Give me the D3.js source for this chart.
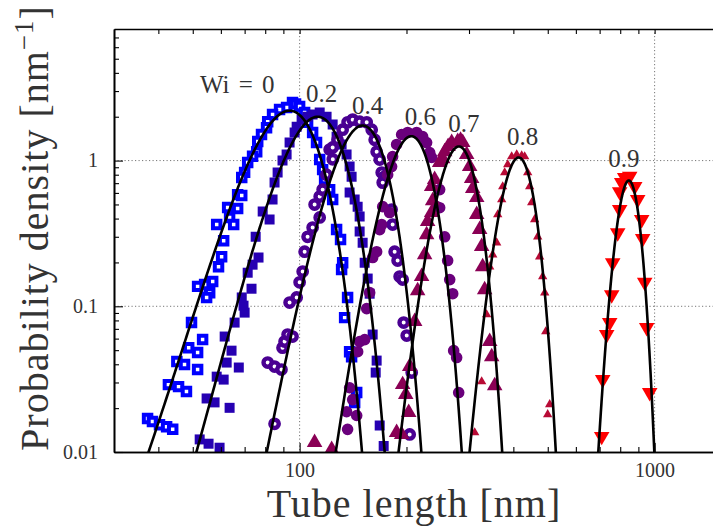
<!DOCTYPE html>
<html>
<head>
<meta charset="utf-8">
<script src="https://cdn.jsdelivr.net/npm/d3@7"></script>
<style>
  body { margin: 0; background: #fff; }
  text { font-family: "Liberation Serif", "Times New Roman", serif; fill: #333; }
</style>
</head>
<body>
<div id="chart"></div>
<script>
// measured points [tube length nm, probability density], one array per Wi
var wi00 = [[95.5,2.50],[97.4,2.45],[91.9,2.31],[87.8,2.24],[83.9,2.07],[81.3,1.85],[80.7,1.68],[78.1,1.51],[76.2,1.35],[75.7,1.15],[73.7,1.07],[71.4,0.97],[70.0,0.83],[68.7,0.765],[66.9,0.584],[68.7,0.575],[62.7,0.476],[66.9,0.469],[63.5,0.407],[58.4,0.364],[65.2,0.364],[61.1,0.282],[60.3,0.219],[59.1,0.187],[56.9,0.148],[54.0,0.141],[51.6,0.137],[55.8,0.124],[54.7,0.115],[49.6,0.0773],[53.3,0.0591],[48.7,0.052],[51.6,0.0481],[45.1,0.0418],[47.4,0.0398],[51.6,0.0368],[42.7,0.029],[45.6,0.0281],[48.0,0.026],[37.3,0.017],[38.5,0.0162],[40.3,0.0154],[42.2,0.0149],[43.9,0.0143],
  [100,2.35],[103.3,2.14],[105.3,1.83],[108.8,1.56],[111.6,1.33],[113.9,1.016],[116.1,0.867],[117.6,0.741],[121.5,0.632],[123.9,0.540],[127.1,0.336],[130.4,0.287],[132.2,0.199],[131.3,0.179],[136.5,0.115],[133.9,0.0836],[138.3,0.0488],[140.1,0.0451],[144.8,0.0256],[142.9,0.0219]];
var wi02 = [[59.5,0.0107],[55.4,0.0114],[52.3,0.0122],[63.5,0.0201],[57.6,0.0219],[54.7,0.0233],[61.1,0.0314],[58.4,0.0329],[67.4,0.038],[62.3,0.0411],[64.3,0.0496],[61.5,0.062],[65.6,0.0773],[70.0,0.0905],[69.5,0.101],[68.7,0.115],[73.2,0.132],[71.4,0.170],[73.7,0.193],[76.6,0.216],[75.2,0.30],[78.7,0.447],[82.3,0.394],[83.9,0.540],[85.0,0.706],[86.7,0.827],[89.5,1.0],[91.9,1.10],[93.7,1.33],[96.8,1.56],[98.1,1.71],[101.3,1.91],[105.3,2.0],[108.8,2.07],[113.9,2.14],[119.1,2.0],[123.9,1.77],[127.1,1.46],[131.3,1.29],[135.6,1.10],[138.3,0.91],[140.1,0.776],[138.3,0.603],[142.9,0.540],[145.7,0.483],[147.6,0.413],[147.6,0.326],[150.5,0.273],[152.5,0.199],[155.5,0.155],[157.5,0.122],[160.6,0.064],[164.8,0.0424],[163.8,0.0351],[168.1,0.0152],[172.5,0.011]];
var wi04 = [[85.0,0.0156],[81.3,0.0411],[85.0,0.0386],[88.9,0.0368],[89.5,0.052],[90.7,0.0573],[92.5,0.064],[95.5,0.062],[93.7,0.106],[98.1,0.115],[100,0.146],[102,0.173],[103.3,0.237],[105.3,0.300],[108.8,0.347],[113.9,0.407],[110.2,0.499],[113.9,0.566],[116.1,0.632],[119,0.80],[124,1.02],[121.5,1.19],[123.9,1.23],[127.9,1.39],[132.2,1.63],[136.5,1.83],[141.1,1.91],[147.6,1.85],[154.5,1.83],[159.6,1.63],[162.7,1.39],[164.8,1.15],[168.1,1.016],[170.3,0.827],[173.6,0.776],[171.4,0.706],[181.6,0.461],[182.8,0.364],[185.2,0.237],[188.8,0.206],[191.3,0.160],[195.1,0.1525],[196.4,0.0773],[200.3,0.063],[206.9,0.0351],[204.2,0.0132]];
var wi06 = [[136.5,0.0143],[135.6,0.0189],[144.8,0.0178],[141.1,0.0229],[138.3,0.0276],[145.7,0.0488],[147.6,0.0573],[152.5,0.0591],[154.5,0.0964],[157.5,0.124],[160.6,0.216],[164.8,0.237],[168.1,0.336],[170.3,0.364],[171.4,0.483],[179.3,0.44],[177,0.801],[181.6,0.91],[182.8,1.066],[187.6,1.29],[193.8,1.51],[201.6,1.56],[213.6,1.56],[222.1,1.46],[227.9,1.33],[232.5,1.135],[235.5,1.05],[248,0.632],[243.2,0.483],[248,0.475],[256.2,0.300],[261.2,0.206],[264.7,0.1525],[269.9,0.122],[271.6,0.0496],[276.9,0.0445],[280.6,0.0256]];
var wi07 = [[110.2,0.0116],[123.1,0.0104],[187.6,0.0136],[193.8,0.0132],[202.9,0.0187],[199,0.0248],[195.1,0.029],[204.2,0.0386],[210.9,0.0785],[215,0.128],[220.6,0.160],[225,0.226],[227.9,0.310],[229.4,0.382],[235.5,0.44],[237,0.531],[235.5,0.663],[240.1,0.741],[248,0.969],[252.9,1.03],[256.2,1.15],[262,1.25],[268.1,1.33],[278.8,1.35],[284,1.38],[288,1.33],[295.5,1.10],[301.3,0.91],[305.2,0.753],[307.3,0.642],[315.4,0.557],[315.4,0.426],[321.5,0.336],[325.7,0.257],[327.8,0.187],[332.1,0.130],[343.1,0.0573],[347.6,0.0451],[354.4,0.0285]];
var wi08 = [[311.3,0.0136],[325.7,0.0304],[336.4,0.0877],[343.1,0.187],[349.9,0.226],[359,0.273],[361.4,0.426],[370.9,0.540],[373.3,0.663],[378.1,0.827],[385.6,0.939],[395.7,1.066],[408.8,1.10],[422.2,1.08],[430.5,1.066],[439,0.827],[444.7,0.663],[450.5,0.515],[459.3,0.394],[468.4,0.300],[474.5,0.219],[483.8,0.160],[490.3,0.124],[493.5,0.067],[506.3,0.0212],[499.8,0.0181]];
var wi09 = [[823.6,0.765],[850.7,0.78],[807.7,0.706],[878.8,0.663],[797.3,0.612],[896,0.540],[797.3,0.461],[919.5,0.394],[787.1,0.320],[925.5,0.292],[761.9,0.199],[937.7,0.146],[757,0.120],[747.2,0.0773],[732.8,0.064],[714.1,0.0314],[709.4,0.0128],[949.9,0.0714],[968.6,0.0256]];

// gaussian fits: centre, peak height, width (nm)
var fitCenter = [93.7, 112.4, 150.5, 206.3, 281, 414, 846];
var fitHeight = [2.2, 2.0, 1.74, 1.47, 1.25, 1.05, 0.73];
var fitWidth = [17.1, 18.8, 21.7, 25.3, 29.3, 37.0, 51.9];

var wiLabels = ["Wi = 0", "0.2", "0.4", "0.6", "0.7", "0.8", "0.9"];

var xMajor = [100, 1000];
var xMinor = [40, 50, 60, 70, 80, 90, 200, 300, 400, 500, 600, 700, 800, 900, 2000];
var yMajor = [0.01, 0.1, 1];
var yMinor = [0.02, 0.03, 0.04, 0.05, 0.06, 0.07, 0.08, 0.09, 0.2, 0.3, 0.4, 0.5, 0.6, 0.7, 0.8, 0.9, 2, 3, 4, 5, 6, 7];

var Width = 713;
var Height = 528;
var padLeft = 114, padTop = 29, padBottom = 452;
var decade = 355;

var svg = d3.select("#chart").append("svg")
  .attr("width", Width)
  .attr("height", Height);

var x = d3.scaleLog().domain([30, 2000])
  .range([padLeft, padLeft + decade * Math.log10(2000 / 30)]);
var y = d3.scaleLog().domain([0.01, 8]).range([padBottom, padTop]);
var plotRight = x.range()[1];

svg.append("clipPath").attr("id", "plotclip")
  .append("rect")
  .attr("x", padLeft).attr("y", padTop)
  .attr("width", plotRight - padLeft).attr("height", padBottom - padTop);

// dotted grid at the decades
var grid = svg.append("g").attr("stroke", "#777").attr("stroke-width", 1)
  .attr("stroke-dasharray", "1.2,2.3");
grid.selectAll(".gx").data(xMajor).enter().append("line")
  .attr("x1", d => x(d)).attr("x2", d => x(d))
  .attr("y1", padTop).attr("y2", padBottom);
grid.selectAll(".gy").data([0.1, 1]).enter().append("line")
  .attr("x1", padLeft).attr("x2", plotRight)
  .attr("y1", d => y(d)).attr("y2", d => y(d));

// markers
var series = [
  { pts: wi00, color: "#0000ff", sym: d3.symbolSquare, size: 56, open: true, sw: 4 },
  { pts: wi02, color: "#2600b2", sym: d3.symbolSquare, size: 100 },
  { pts: wi04, color: "#4a0092", sym: d3.symbolCircle, size: 55, open: true, sw: 4.4 },
  { pts: wi06, color: "#6a007c", sym: d3.symbolCircle, size: 106 },
  { pts: wi07, color: "#8a0055", sym: d3.symbolTriangle, size: 105 },
  { pts: wi08, color: "#b80a35", sym: d3.symbolTriangle, size: 38 },
  { pts: wi09, color: "#ff0000", sym: d3.symbolTriangle, size: 105, flip: true }
];

var marks = svg.append("g").attr("clip-path", "url(#plotclip)");
series.forEach(function (s) {
  marks.append("g").selectAll("path")
    .data(s.pts)
    .enter()
    .append("path")
    .attr("d", d3.symbol().type(s.sym).size(s.size))
    .attr("transform", function (d) {
      return "translate(" + x(d[0]) + "," + y(d[1]) + ")" + (s.flip ? " rotate(180)" : "");
    })
    .attr("fill", s.open ? "#fff" : s.color)
    .attr("stroke", s.open ? s.color : "none")
    .attr("stroke-width", s.open ? s.sw : 0);
});

// fitted curves
var line = d3.line().x(d => x(d[0])).y(d => y(d[1]));
fitCenter.forEach(function (c, i) {
  var s = fitWidth[i], a = fitHeight[i];
  var xs = d3.range(0, 401).map(k => Math.max(30, c - 4.2 * s + k * 8.4 * s / 400));
  var pts = xs.map(v => [v, a * Math.exp(-((v - c) * (v - c)) / (2 * s * s))])
    .filter(p => p[1] > 0.006);
  marks.append("path").datum(pts)
    .attr("d", line)
    .attr("fill", "none")
    .attr("stroke", "#000")
    .attr("stroke-width", 2.6);
});

// Wi labels above each peak
var labelDx = [-15, 4, 5, 9, 5, 4, -5];
var labelDy = [-18, -15, -12, -11, -14, -12, -14];
svg.selectAll(".wi").data(wiLabels).enter().append("text")
  .attr("class", "wi")
  .attr("x", (d, i) => x(fitCenter[i]) + labelDx[i])
  .attr("y", (d, i) => y(fitHeight[i]) + labelDy[i])
  .attr("text-anchor", (d, i) => i === 0 ? "end" : "middle")
  .attr("font-size", 25)
  .attr("word-spacing", (d, i) => i === 0 ? 3 : 0)
  .text(d => d);

// axes, ticks inward
function styleAxis(g) {
  g.selectAll("path.domain").attr("stroke", "#000").attr("stroke-width", 1.6);
  g.selectAll(".tick line").attr("stroke", "#000").attr("stroke-width", 1.1);
  g.selectAll("text").attr("font-family", "Liberation Serif, serif")
    .attr("font-size", 20).attr("fill", "#333");
}
svg.append("g").attr("transform", "translate(0," + padBottom + ")")
  .call(d3.axisBottom(x).tickValues(xMinor).tickSize(-5).tickSizeOuter(0).tickFormat(""))
  .call(styleAxis);
svg.append("g").attr("transform", "translate(0," + padBottom + ")")
  .call(d3.axisBottom(x).tickValues(xMajor).tickSize(-9).tickSizeOuter(0).tickPadding(11).tickFormat(d3.format("d")))
  .call(styleAxis);
svg.append("g").attr("transform", "translate(0," + padTop + ")")
  .call(d3.axisTop(x).tickValues(xMinor.concat(xMajor)).tickSize(-5).tickSizeOuter(0).tickFormat(""))
  .call(styleAxis);
svg.append("g").attr("transform", "translate(" + padLeft + ",0)")
  .call(d3.axisLeft(y).tickValues(yMinor).tickSize(-5).tickSizeOuter(0).tickFormat(""))
  .call(styleAxis);
svg.append("g").attr("transform", "translate(" + padLeft + ",0)")
  .call(d3.axisLeft(y).tickValues(yMajor).tickSize(-9).tickSizeOuter(0).tickPadding(16).tickFormat(d => d))
  .call(styleAxis);

// axis titles
svg.append("text")
  .attr("x", 414).attr("y", 517)
  .attr("text-anchor", "middle")
  .attr("font-size", 40)
  .attr("letter-spacing", 1)
  .text("Tube length [nm]");

var yt = svg.append("text")
  .attr("transform", "translate(48,228) rotate(-90)")
  .attr("text-anchor", "middle")
  .attr("font-size", 40)
  .attr("letter-spacing", 1);
yt.append("tspan").text("Probability density [nm");
yt.append("tspan").attr("font-size", 27).attr("dy", -15).text("\u22121");
yt.append("tspan").attr("dy", 15).text("]");
</script>
</body>
</html>
